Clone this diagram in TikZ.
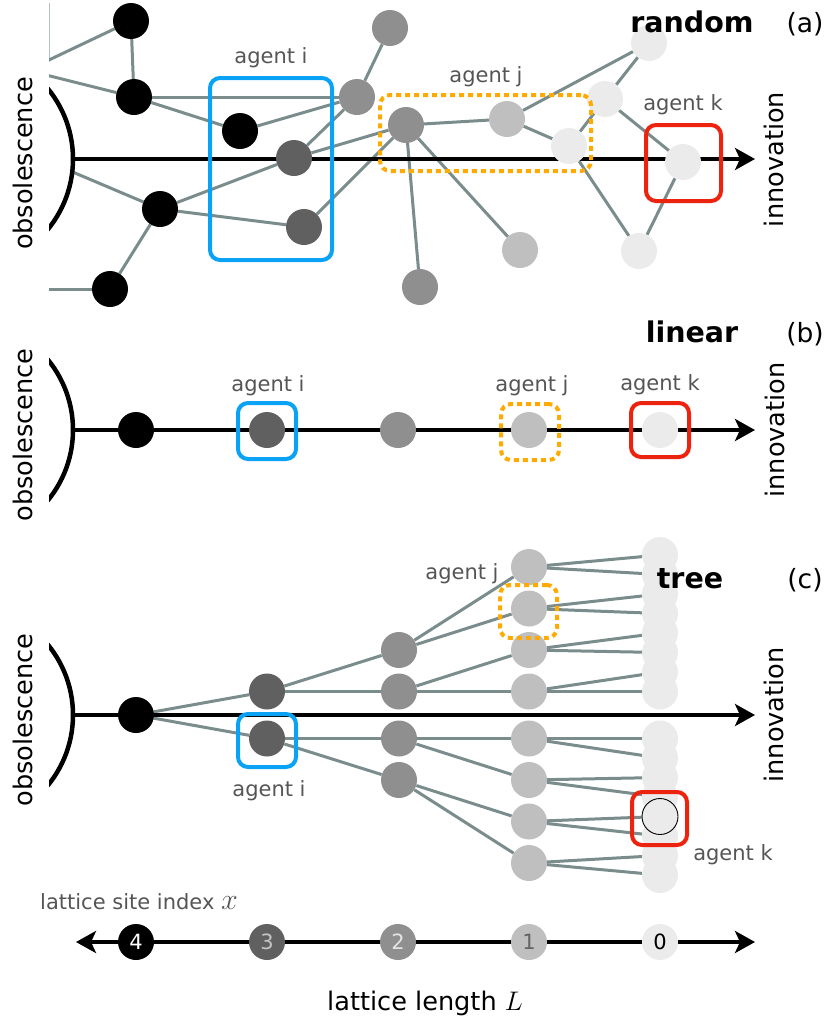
\documentclass[tikz,border=0pt]{standalone}
\usepackage{fontspec}
\setmainfont{DejaVu Sans}
\usetikzlibrary{arrows.meta}
\pgfdeclarelayer{bg}
\pgfsetlayers{bg,main}
\definecolor{gfour}{RGB}{0,0,0}
\definecolor{gthree}{RGB}{96,96,96}
\definecolor{gtwo}{RGB}{143,143,143}
\definecolor{gone}{RGB}{191,191,191}
\definecolor{gzero}{RGB}{235,235,235}
\definecolor{edgec}{RGB}{122,140,140}
\definecolor{labc}{RGB}{85,85,85}
\definecolor{bluec}{RGB}{10,162,245}
\definecolor{orangec}{RGB}{255,170,0}
\definecolor{redc}{RGB}{235,35,15}
\begin{document}
\begin{tikzpicture}[x=1pt,y=-1pt,
  nd/.style={circle,inner sep=0pt,minimum size=36pt,draw=none},
  n4/.style={nd,fill=gfour},
  n3/.style={nd,fill=gthree},
  n2/.style={nd,fill=gtwo},
  n1/.style={nd,fill=gone},
  n0/.style={nd,fill=gzero},
  edge/.style={draw=edgec,line width=3pt},
  axisline/.style={line width=4pt,-{Stealth[length=20pt,width=22pt,inset=5pt]}},
  dblaxis/.style={line width=4pt,{Stealth[length=20pt,width=22pt,inset=5pt]}-{Stealth[length=20pt,width=22pt,inset=5pt]}},
  arcline/.style={line width=4.5pt},
  agentlab/.style={text=labc,font=\fontsize{21}{25}\selectfont,inner sep=0pt,anchor=base},
  bigtext/.style={font=\fontsize{25.6}{30}\selectfont,inner sep=0pt},
  titletext/.style={font=\fontsize{28.5}{33}\selectfont\bfseries,inner sep=0pt,anchor=base},
  paneltag/.style={font=\fontsize{26.5}{31}\selectfont,inner sep=0pt,anchor=base},
  numlab/.style={font=\fontsize{21}{25}\selectfont},
  boxi/.style={draw=bluec,line width=4pt,rounded corners=10pt,inner sep=0pt},
  boxj/.style={draw=orangec,line width=4pt,rounded corners=10pt,dash pattern=on 5pt off 4pt,inner sep=0pt},
  boxk/.style={draw=redc,line width=4pt,rounded corners=10pt,inner sep=0pt},
]
\useasboundingbox (0,0) rectangle (830,1023);

% ================= panel (a): random =================
\node[n4] (a1) at (131,21) {};
\node[n4] (a2) at (134,97) {};
\node[n4] (a3) at (240,131) {};
\node[n4] (a4) at (160,209) {};
\node[n4] (a5) at (110,289) {};
\node[n3] (b1) at (294,158) {};
\node[n3] (b2) at (304,227) {};
\node[n2] (c1) at (357,97) {};
\node[n2] (c2) at (390,28) {};
\node[n2] (c3) at (406,125) {};
\node[n2] (c4) at (420,287) {};
\node[n1] (d1) at (507,119) {};
\node[n1] (d2) at (520,250) {};
\node[n0] (e1) at (569,146) {};
\node[n0] (e2) at (605,99) {};
\node[n0] (e3) at (649,43) {};
\node[n0] (e4) at (683,162) {};
\node[n0] (e5) at (639,251) {};

\begin{pgfonlayer}{bg}
\begin{scope}
  \clip (49,0) rectangle (830,320);
  \coordinate (la1) at (30,69);
  \coordinate (la2) at (30,71);
  \coordinate (la4) at (-10,137);
  \coordinate (la5) at (30,289);
  \coordinate (lv1) at (49,3);
  \coordinate (lv2) at (49,60);
  \draw[draw=edgec!55,line width=2pt] (lv1) -- (lv2);
  \draw[edge] (la1) -- (a1);
  \draw[edge] (a1) -- (a2);
  \draw[edge] (la2) -- (a2);
  \draw[edge] (a2) -- (c1);
  \draw[edge] (a2) -- (a3);
  \draw[edge] (a3) -- (c1);
  \draw[edge] (b1) -- (c1);
  \draw[edge] (b1) -- (c3);
  \draw[edge] (la4) -- (a4);
  \draw[edge] (a4) -- (b1);
  \draw[edge] (a4) -- (b2);
  \draw[edge] (a4) -- (a5);
  \draw[edge] (la5) -- (a5);
  \draw[edge] (b2) -- (c3);
  \draw[edge] (c1) -- (c2);
  \draw[edge] (c3) -- (c4);
  \draw[edge] (c3) -- (d2);
  \draw[edge] (c3) -- (d1);
  \draw[edge] (d1) -- (e1);
  \draw[edge] (d1) -- (e3);
  \draw[edge] (e1) -- (e2);
  \draw[edge] (e2) -- (e3);
  \draw[edge] (e2) -- (e4);
  \draw[edge] (e1) -- (e5);
  \draw[edge] (e4) -- (e5);
  \fill[white] (-38,159) circle (111pt);
  \draw[arcline] (-38,159) circle (111pt);
\end{scope}
\coordinate (axa0) at (73,159);
\coordinate (axa1) at (755,159);
\draw[axisline] (axa0) -- (axa1);
\end{pgfonlayer}

\node[boxi,minimum width=122pt,minimum height=182pt] (bxai) at (271,169) {};
\node[boxj,minimum width=211pt,minimum height=76pt] (bxaj) at (485.5,133) {};
\node[boxk,minimum width=75pt,minimum height=76pt] (bxak) at (683.5,163) {};
\node[agentlab] (lai) at (271,63) {agent i};
\node[agentlab] (laj) at (486,82) {agent j};
\node[agentlab] (lak) at (683,110) {agent k};
\node[titletext] (ta) at (692,32) {random};
\node[paneltag] (pa) at (805,32) {(a)};
\node[bigtext,rotate=90] (oa) at (23,163.5) {obsolescence};
\node[bigtext,rotate=90] (ia) at (774,159.5) {innovation};

% ================= panel (b): linear =================
\node[n4] (l4) at (136,430) {};
\node[n3] (l3) at (267,430) {};
\node[n2] (l2) at (398,430) {};
\node[n1] (l1) at (529,430) {};
\node[n0] (l0) at (660,430) {};
\begin{pgfonlayer}{bg}
\begin{scope}
  \clip (49,330) rectangle (830,530);
  \draw[arcline] (-38,430) circle (111pt);
\end{scope}
\coordinate (axb0) at (73,430);
\coordinate (axb1) at (755,430);
\draw[axisline] (axb0) -- (axb1);
\end{pgfonlayer}
\node[boxi,minimum width=58pt,minimum height=56pt] (bxbi) at (267,431) {};
\node[boxj,minimum width=58pt,minimum height=56pt] (bxbj) at (530,432) {};
\node[boxk,minimum width=58pt,minimum height=54pt] (bxbk) at (660,430) {};
\node[agentlab] (lbi) at (268,391) {agent i};
\node[agentlab] (lbj) at (532,391) {agent j};
\node[agentlab] (lbk) at (660,390) {agent k};
\node[titletext] (tb) at (692,342) {linear};
\node[paneltag] (pb) at (805,342) {(b)};
\node[bigtext,rotate=90] (ob) at (23,435) {obsolescence};
\node[bigtext,rotate=90] (ib) at (775,430) {innovation};

% ================= panel (c): tree =================
\node[n4] (t4) at (136,715) {};
\node[n3] (t3u) at (267,691.5) {};
\node[n3] (t3d) at (267,738.5) {};
\foreach \sn/\s in {u/-1,d/1} {
  \foreach \k in {0,1}
    \node[n2] (t2\sn\k) at (399,{715+(\s)*(23.5+41.5*\k)}) {};
  \foreach \k in {0,...,3}
    \node[n1] (t1\sn\k) at (529,{715+(\s)*(23.5+41.5*\k)}) {};
}
\foreach \m in {0,...,7}
  \node[n0] (t0u\m) at (660,{715-(23.5+19.5*\m)}) {};
\foreach \m in {0,1,2,3,5,6,7}
  \node[n0] (t0d\m) at (660,{715+(23.5+19.5*\m)}) {};
\node[n0,draw=black,line width=0.9pt] (t0d4) at (660,{715+(23.5+19.5*4)}) {};

\begin{pgfonlayer}{bg}
\foreach \sn in {u,d} {
  \draw[edge] (t4) -- (t3\sn);
  \foreach \k in {0,1}
    \draw[edge] (t3\sn) -- (t2\sn\k);
  \foreach \k in {0,1} {
    \pgfmathtruncatemacro{\ca}{2*\k}
    \pgfmathtruncatemacro{\cb}{2*\k+1}
    \draw[edge] (t2\sn\k) -- (t1\sn\ca);
    \draw[edge] (t2\sn\k) -- (t1\sn\cb);
  }
  \foreach \k in {0,...,3} {
    \pgfmathtruncatemacro{\ca}{2*\k}
    \pgfmathtruncatemacro{\cb}{2*\k+1}
    \draw[edge] (t1\sn\k) -- (t0\sn\ca);
    \draw[edge] (t1\sn\k) -- (t0\sn\cb);
  }
}
\begin{scope}
  \clip (49,600) rectangle (830,830);
  \draw[arcline] (-38,715) circle (111pt);
\end{scope}
\coordinate (axc0) at (73,715);
\coordinate (axc1) at (755,715);
\draw[axisline] (axc0) -- (axc1);
\end{pgfonlayer}

\node[boxi,minimum width=58pt,minimum height=53pt] (bxci) at (267,740.5) {};
\node[boxj,minimum width=57pt,minimum height=53pt] (bxcj) at (528.5,611.5) {};
\node[boxk,minimum width=55pt,minimum height=53pt] (bxck) at (659.5,818.5) {};
\node[agentlab] (lci) at (269,796) {agent i};
\node[agentlab] (lcj) at (462,579) {agent j};
\node[agentlab] (lck) at (733,860) {agent k};
\node[titletext] (tc) at (690,588) {tree};
\node[paneltag] (pc) at (805,588) {(c)};
\node[bigtext,rotate=90] (oc) at (23,720) {obsolescence};
\node[bigtext,rotate=90] (ic) at (774,715) {innovation};

% ================= bottom axis =================
\coordinate (bl) at (76,942);
\coordinate (br) at (755,942);
\begin{pgfonlayer}{bg}
\draw[dblaxis] (bl) -- (br);
\end{pgfonlayer}
\node[n4,numlab,text=white] (x4) at (136,942) {4};
\node[n3,numlab,text={rgb,255:red,195;green,195;blue,195}] (x3) at (267,942) {3};
\node[n2,numlab,text={rgb,255:red,228;green,228;blue,228}] (x2) at (398,942) {2};
\node[n1,numlab,text={rgb,255:red,100;green,100;blue,100}] (x1) at (529,942) {1};
\node[n0,numlab,text=black] (x0) at (660,942) {0};
\node[agentlab,anchor=base west] (lsi) at (40,909) {lattice site index \scalebox{1.45}{$x$}};
\node[bigtext,anchor=base] (lll) at (425,1010) {lattice length \scalebox{1.08}{$L$}};
\end{tikzpicture}
\end{document}
